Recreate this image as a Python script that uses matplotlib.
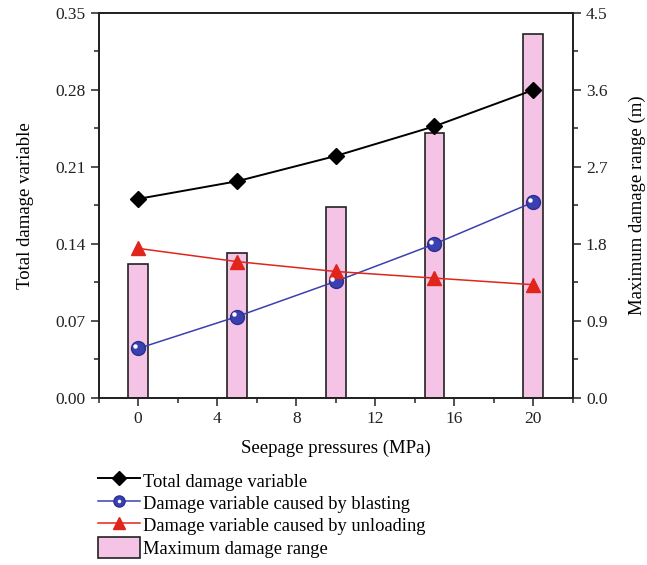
import numpy as np
import matplotlib.pyplot as plt
from matplotlib.lines import Line2D
from matplotlib.patches import Patch
from matplotlib.ticker import MultipleLocator

plt.rcParams['font.family'] = ['Liberation Serif', 'DejaVu Serif']
plt.rcParams['font.size'] = 12.5

pressure = [0, 5, 10, 15, 20]
total_damage = [0.181, 0.197, 0.220, 0.247, 0.280]
blast_damage = [0.045, 0.074, 0.106, 0.140, 0.178]
unload_damage = [0.136, 0.124, 0.115, 0.109, 0.103]
max_range = [1.57, 1.70, 2.23, 3.10, 4.26]

pink = '#f4c3e5'
blue = '#3a40b0'
red = '#e0261a'

fig = plt.figure(figsize=(6.47, 5.65), dpi=100)
ax = fig.add_axes([0.1525, 0.2956, 0.7327, 0.6814])
ax2 = ax.twinx()

# bars on the right axis, kept behind the lines
ax2.bar(pressure, max_range, width=1.0, color=pink, edgecolor='#222222', linewidth=1.2)
ax.set_zorder(ax2.get_zorder() + 1)
ax.patch.set_visible(False)

ax.plot(pressure, total_damage, color='black', lw=1.4, marker='D', ms=8)
ax.plot(pressure, blast_damage, color=blue, lw=1.1, marker='o', ms=10,
        mec='#2a2f90')
ax.plot(pressure, unload_damage, color=red, lw=1.1, marker='^', ms=10)
# white highlight on the blue balls
ax.plot(np.array(pressure) - 0.17, np.array(blast_damage) + 0.0022, ls='none',
        marker='o', ms=3.2, color='white', mec='none')

ax.set_xlim(-2, 22)
ax.set_ylim(0, 0.35)
ax2.set_ylim(0, 4.5)
ax.set_xticks([0, 4, 8, 12, 16, 20])
ax.xaxis.set_minor_locator(MultipleLocator(2))
ax.set_yticks(np.arange(0, 0.351, 0.07))
ax.set_yticklabels([f'{v:.2f}' for v in np.arange(0, 0.351, 0.07)])
ax.yaxis.set_minor_locator(MultipleLocator(0.035))
ax2.set_yticks(np.arange(0, 4.51, 0.9))
ax2.set_yticklabels([f'{v:.1f}' for v in np.arange(0, 4.51, 0.9)])
ax2.yaxis.set_minor_locator(MultipleLocator(0.45))

for a in (ax, ax2):
    a.tick_params(which='major', direction='out', length=6, width=1.2,
                  color='#333333', labelcolor='#222222', labelsize=12.5)
    a.tick_params(which='minor', direction='out', length=3.5, width=1.2, color='#333333')
    for s in a.spines.values():
        s.set_linewidth(1.3)
        s.set_color('#222222')

ax.set_xlabel('Seepage pressures (MPa)', labelpad=9, fontsize=13.5)
ax.set_ylabel('Total damage variable', labelpad=15, fontsize=13.5)
ax2.set_ylabel('Maximum damage range (m)', labelpad=15, fontsize=13.5)

h_total = Line2D([], [], color='black', lw=1.4, marker='D', ms=7)
h_blast = (Line2D([], [], color=blue, lw=1.1, marker='o', ms=8, mec='#2a2f90'),
           Line2D([], [], ls='none', marker='o', ms=2.5, color='white', mec='none'))
h_unload = Line2D([], [], color=red, lw=1.1, marker='^', ms=8)
h_bar = Patch(facecolor=pink, edgecolor='#222222', linewidth=1.2)
fig.legend([h_total, h_blast, h_unload, h_bar],
           ['Total damage variable', 'Damage variable caused by blasting',
            'Damage variable caused by unloading', 'Maximum damage range'],
           loc='upper left', bbox_to_anchor=(0.151, 0.168), frameon=False,
           handlelength=2.3, handleheight=1.4, handletextpad=0.15,
           labelspacing=0.05, borderaxespad=0, borderpad=0, fontsize=13.3)

fig.savefig('out.png', dpi=100)
